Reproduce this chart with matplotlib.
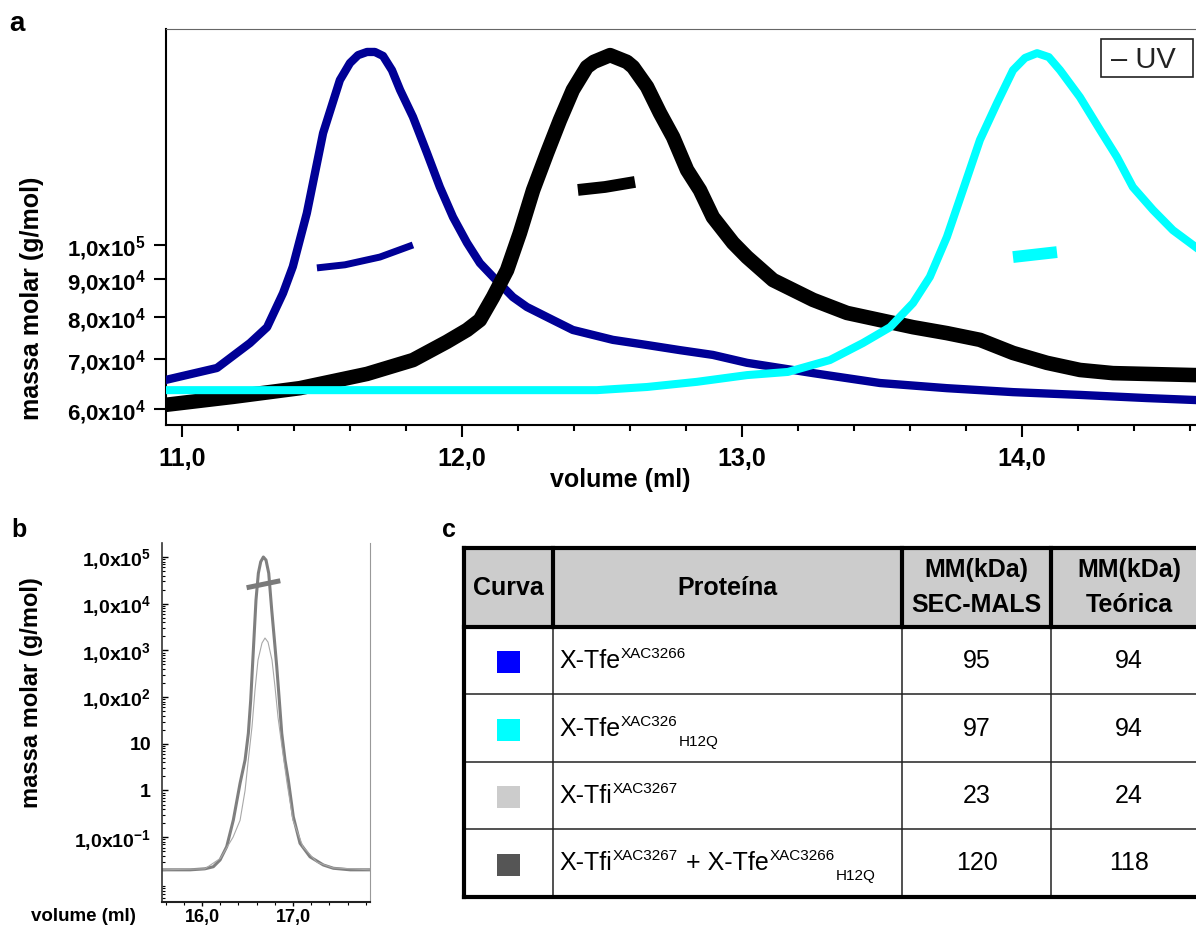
import matplotlib
matplotlib.use('Agg')
import matplotlib.pyplot as plt
from matplotlib.patches import Rectangle
from matplotlib.ticker import FixedLocator, NullLocator, MultipleLocator, LogLocator, NullFormatter

plt.rcParams['font.family'] = 'Liberation Sans'
plt.rcParams['mathtext.fontset'] = 'custom'
plt.rcParams['mathtext.rm'] = 'Liberation Sans'
plt.rcParams['mathtext.it'] = 'Liberation Sans:italic'
plt.rcParams['mathtext.bf'] = 'Liberation Sans:bold'
plt.rcParams['lines.solid_joinstyle'] = 'round'

# ---- painel a: sinal UV relativo (0-1) e massa molar (g/mol) ----
vol_blue = [10.943, 11.125, 11.243, 11.304, 11.361, 11.396, 11.446, 11.504, 11.564,
            11.600, 11.629, 11.661, 11.689, 11.718, 11.750, 11.779, 11.825, 11.875, 11.921,
            11.968, 12.018, 12.064, 12.111, 12.182, 12.232, 12.325, 12.396, 12.539, 12.661,
            12.779, 12.896, 13.018, 13.136, 13.254, 13.493, 13.732, 13.968, 14.207, 14.446,
            14.621]
uv_blue = [0.114, 0.144, 0.207, 0.247, 0.333, 0.400, 0.535, 0.737, 0.871,
           0.914, 0.934, 0.942, 0.942, 0.932, 0.896, 0.846, 0.778, 0.687, 0.601,
           0.525, 0.460, 0.409, 0.374, 0.323, 0.298, 0.265, 0.240, 0.215, 0.202,
           0.189, 0.177, 0.157, 0.144, 0.131, 0.106, 0.093, 0.083, 0.076, 0.068,
           0.063]

vol_black = [10.943, 11.182, 11.421, 11.661, 11.825, 11.946, 12.018, 12.064, 12.111, 12.161,
             12.207, 12.254, 12.304, 12.350, 12.396, 12.446, 12.471, 12.529, 12.589, 12.611,
             12.661, 12.707, 12.754, 12.804, 12.850, 12.896, 12.968, 13.018, 13.111, 13.254,
             13.375, 13.493, 13.611, 13.732, 13.850, 13.968, 14.089, 14.207, 14.325, 14.621]
uv_black = [0.051, 0.071, 0.093, 0.129, 0.164, 0.210, 0.240, 0.265, 0.323, 0.391,
            0.485, 0.593, 0.687, 0.770, 0.846, 0.904, 0.917, 0.934, 0.917, 0.904,
            0.854, 0.788, 0.727, 0.644, 0.593, 0.525, 0.460, 0.424, 0.366, 0.316,
            0.283, 0.265, 0.247, 0.232, 0.215, 0.182, 0.157, 0.139, 0.131, 0.126]

vol_cyan = [10.943, 12.482, 12.661, 12.839, 13.018, 13.164, 13.314, 13.432, 13.529, 13.611,
            13.671, 13.732, 13.789, 13.850, 13.911, 13.968, 14.011, 14.054, 14.096, 14.136,
            14.207, 14.279, 14.339, 14.396, 14.468, 14.539, 14.621]
uv_cyan = [0.088, 0.088, 0.096, 0.109, 0.126, 0.134, 0.164, 0.207, 0.247, 0.308,
           0.374, 0.475, 0.593, 0.720, 0.813, 0.896, 0.927, 0.939, 0.929, 0.896,
           0.828, 0.745, 0.677, 0.601, 0.543, 0.492, 0.449]

vol_mm_blue = [11.482, 11.582, 11.707, 11.825]
mm_blue = [93.1e3, 94.0e3, 96.3e3, 1.0e5]
vol_mm_black = [12.414, 12.511, 12.618]
mm_black = [1.187e5, 1.198e5, 1.217e5]
vol_mm_cyan = [13.968, 14.125]
mm_cyan = [96.3e3, 97.8e3]

yticks_a = [6e4, 7e4, 8e4, 9e4, 1e5]
yticklabels_a = [r'6,0x10$^{\mathregular{4}}$', r'7,0x10$^{\mathregular{4}}$', r'8,0x10$^{\mathregular{4}}$',
                 r'9,0x10$^{\mathregular{4}}$', r'1,0x10$^{\mathregular{5}}$']
xticks_a = [11, 12, 13, 14]
xticklabels_a = ['11,0', '12,0', '13,0', '14,0']

# ---- painel b ----
vol_b_thick = [15.56, 15.87, 16.03, 16.124, 16.198, 16.271, 16.344, 16.418, 16.473, 16.509,
               16.535, 16.564, 16.593, 16.619, 16.645, 16.674, 16.703, 16.733, 16.766, 16.795,
               16.821, 16.849, 16.876, 16.912, 16.948, 17.003, 17.077, 17.187, 17.333, 17.443,
               17.63, 17.85]
val_b_thick = [0.020, 0.020, 0.021, 0.0233, 0.0325, 0.0627, 0.233, 1.43, 4.5, 16.8,
               87, 1020, 1.2e4, 4.5e4, 7.9e4, 1.0e5, 8.6e4, 4.5e4, 7.3e3, 1700,
               450, 87, 16.8, 4.5, 1.68, 0.275, 0.074, 0.038, 0.0254, 0.0216,
               0.020, 0.020]
vol_b_thin = [15.56, 16.03, 16.20, 16.341, 16.418, 16.473, 16.505, 16.549, 16.582, 16.615,
              16.659, 16.692, 16.725, 16.769, 16.802, 16.835, 16.879, 16.934, 17.000, 17.110,
              17.264, 17.44, 17.85]
val_b_thin = [0.020, 0.021, 0.035, 0.10, 0.23, 1.0, 3.9, 23, 140, 620,
              1440, 1840, 1510, 620, 165, 37, 8.5, 1.45, 0.23, 0.062,
              0.029, 0.022, 0.020]
vol_mm_b = [16.49, 16.67, 16.86]
mm_b = [2.2e4, 2.6e4, 3.1e4]

yticks_b = [1e-1, 1, 10, 1e2, 1e3, 1e4, 1e5]
yticklabels_b = [r'1,0x10$^{\mathregular{-1}}$', '1', '10', r'1,0x10$^{\mathregular{2}}$',
                 r'1,0x10$^{\mathregular{3}}$', r'1,0x10$^{\mathregular{4}}$', r'1,0x10$^{\mathregular{5}}$']
xticks_b = [16, 17]
xticklabels_b = ['16,0', '17,0']

# ---- painel c (tabela) ----
headers = ['Curva', 'Proteína', 'MM(kDa)\nSEC-MALS', 'MM(kDa)\nTeórica']
curve_colors = ['#0000ff', '#00ffff', '#cccccc', '#555555']
proteins = [
    [('X-Tfe', 'n'), ('XAC3266', 'sup')],
    [('X-Tfe', 'n'), ('XAC326', 'sup'), ('H12Q', 'sub')],
    [('X-Tfi', 'n'), ('XAC3267', 'sup')],
    [('X-Tfi', 'n'), ('XAC3267', 'sup'), (' + X-Tfe', 'n'), ('XAC3266', 'sup'), ('H12Q', 'sub')],
]
sec_mals = [95, 97, 23, 120]
teorica = [94, 94, 24, 118]

W, H = 1196, 927
fig = plt.figure(figsize=(W / 100, H / 100), dpi=100)

# painel a
ax_a = fig.add_axes([166 / W, 1 - 425 / H, (1202 - 166) / W, (425 - 29) / H])
ax_a.set_yscale('log')
ax_a.set_ylim(5.706e4, 1.96e5)
ax_a.set_xlim(10.943, 14.643)
ax_a.plot(vol_mm_blue, mm_blue, color='#000096', lw=5, solid_capstyle='butt')
ax_a.plot(vol_mm_black, mm_black, color='black', lw=8.5, solid_capstyle='butt')
ax_a.plot(vol_mm_cyan, mm_cyan, color='#00ffff', lw=8.5, solid_capstyle='butt')
ax_a.yaxis.set_major_locator(FixedLocator(yticks_a))
ax_a.yaxis.set_minor_locator(NullLocator())
ax_a.yaxis.set_minor_formatter(NullFormatter())
ax_a.set_yticklabels(yticklabels_a, fontsize=16, fontweight='bold')
ax_a.xaxis.set_major_locator(FixedLocator(xticks_a))
ax_a.xaxis.set_minor_locator(MultipleLocator(0.2))
ax_a.set_xticklabels(xticklabels_a, fontsize=18, fontweight='bold')
ax_a.tick_params(axis='y', which='major', direction='out', length=8.5, width=1.5, pad=6)
ax_a.tick_params(axis='x', which='major', direction='out', length=8.5, width=1.5, pad=7)
ax_a.tick_params(axis='x', which='minor', direction='out', length=4, width=1.5)
for s in ['left', 'bottom']:
    ax_a.spines[s].set_linewidth(1.5)
ax_a.spines['top'].set_linewidth(0.8)
ax_a.spines['top'].set_color('#666666')

ax_uv = ax_a.twinx()
ax_uv.set_ylim(0, 1)
ax_uv.axis('off')
ax_uv.plot(vol_blue, uv_blue, color='#000096', lw=6)
ax_uv.plot(vol_black, uv_black, color='black', lw=10.5)
ax_uv.plot(vol_cyan, uv_cyan, color='#00ffff', lw=5.8)

# painel b
ax_b = fig.add_axes([162 / W, 1 - 902 / H, 208 / W, 359 / H])
ax_b.set_yscale('log')
ax_b.set_ylim(10 ** -2.388, 10 ** 5.30)
ax_b.set_xlim(15.56, 17.846)
ax_b.plot(vol_b_thick, val_b_thick, color='#7f7f7f', lw=2.2)
ax_b.plot(vol_b_thin, val_b_thin, color='#a8a8a8', lw=0.8)
ax_b.plot(vol_mm_b, mm_b, color='#7a7a7a', lw=3.6, solid_capstyle='butt')
ax_b.yaxis.set_major_locator(FixedLocator(yticks_b))
ax_b.yaxis.set_minor_locator(LogLocator(base=10, subs=[2, 3, 4, 5, 6, 7, 8, 9], numticks=20))
ax_b.yaxis.set_minor_formatter(NullFormatter())
ax_b.set_yticklabels(yticklabels_b, fontsize=14, fontweight='bold')
ax_b.xaxis.set_major_locator(FixedLocator(xticks_b))
ax_b.xaxis.set_minor_locator(MultipleLocator(0.2))
ax_b.set_xticklabels(xticklabels_b, fontsize=13, fontweight='bold')
ax_b.tick_params(axis='y', which='major', direction='in', length=4, width=1, pad=8)
ax_b.tick_params(axis='y', which='minor', direction='in', length=2.5, width=0.8)
ax_b.tick_params(axis='x', which='major', direction='out', length=3, width=1, pad=2)
ax_b.tick_params(axis='x', which='minor', direction='out', length=2, width=0.8)
ax_b.spines['top'].set_visible(False)
ax_b.spines['left'].set_color('#333333')
ax_b.spines['left'].set_linewidth(1.2)
ax_b.spines['bottom'].set_color('#222222')
ax_b.spines['bottom'].set_linewidth(1.5)
ax_b.spines['right'].set_color('#999999')
ax_b.spines['right'].set_linewidth(0.8)

# camada em pixels para tabela, rotulos e legenda
ax_t = fig.add_axes([0, 0, 1, 1])
ax_t.set_xlim(0, W)
ax_t.set_ylim(H, 0)
ax_t.axis('off')

ax_t.text(32, 298, 'massa molar (g/mol)', rotation=90, fontsize=18, fontweight='bold',
          ha='center', va='center')
ax_t.text(620, 480, 'volume (ml)', fontsize=18, fontweight='bold', ha='center', va='center')
ax_t.text(32, 693, 'massa molar (g/mol)', rotation=90, fontsize=17, fontweight='bold',
          ha='center', va='center')
ax_t.text(83, 921, 'volume (ml)', fontsize=13.5, fontweight='bold', ha='center', va='baseline')
ax_t.text(9, 31, 'a', fontsize=20, fontweight='bold', va='baseline')
ax_t.text(11, 537, 'b', fontsize=18, fontweight='bold', va='baseline')
ax_t.text(442, 537, 'c', fontsize=18, fontweight='bold', va='baseline')

# legenda "- UV"
ax_t.add_patch(Rectangle((1101, 39), 92, 38, fill=False, ec='#222222', lw=1.2))
ax_t.text(1111, 68, '– UV', fontsize=21, color='#222222', va='baseline')

# tabela
col_edges = [464, 553, 902, 1051, 1207]
row_edges = [548, 627, 694, 762, 829, 897]
ax_t.add_patch(Rectangle((col_edges[0], row_edges[0]), col_edges[-1] - col_edges[0],
                         row_edges[1] - row_edges[0], fc='#cccccc', ec='none'))
thin = dict(color='#222222', lw=1.1, clip_on=False)
thick = dict(color='black', lw=3, clip_on=False, solid_capstyle='projecting')
for r in row_edges[2:5]:
    ax_t.plot([col_edges[0], col_edges[-1]], [r, r], **thin)
for c in col_edges[1:4]:
    ax_t.plot([c, c], [row_edges[1], row_edges[-1]], **thin)
    ax_t.plot([c, c], [row_edges[0], row_edges[1]], **thick)
for r in [row_edges[0], row_edges[1], row_edges[-1]]:
    ax_t.plot([col_edges[0], col_edges[-1]], [r, r], **thick)
ax_t.plot([col_edges[0], col_edges[0]], [row_edges[0], row_edges[-1]], **thick)

centers = [(col_edges[i] + col_edges[i + 1]) / 2 for i in range(4)]
centers[3] = 1129
for i, h in enumerate(headers):
    lines = h.split('\n')
    if len(lines) == 1:
        ax_t.text(centers[i], 595, lines[0], fontsize=18, fontweight='bold', ha='center', va='baseline')
    else:
        ax_t.text(centers[i], 577, lines[0], fontsize=18, fontweight='bold', ha='center', va='baseline')
        ax_t.text(centers[i], 612, lines[1], fontsize=18, fontweight='bold', ha='center', va='baseline')

renderer = fig.canvas.get_renderer()
baselines = [668, 736, 803, 870]
for i in range(4):
    yc = (row_edges[i + 1] + row_edges[i + 2]) / 2 + 1.5
    ax_t.add_patch(Rectangle((centers[0] - 11.5, yc - 11), 23, 22, fc=curve_colors[i], ec='none'))
    x = 559
    for s, kind in proteins[i]:
        if kind == 'sup':
            size, dy = 11, -10
        elif kind == 'sub':
            size, dy = 11, 10
        else:
            size, dy = 18, 0
        t = ax_t.text(x, baselines[i] + dy, s, fontsize=size, ha='left', va='baseline')
        bb = t.get_window_extent(renderer=renderer)
        x = bb.x1 + 1
    ax_t.text(centers[2], baselines[i], str(sec_mals[i]), fontsize=18, ha='center', va='baseline')
    ax_t.text(centers[3], baselines[i], str(teorica[i]), fontsize=18, ha='center', va='baseline')

fig.savefig('out.png', dpi=100)
